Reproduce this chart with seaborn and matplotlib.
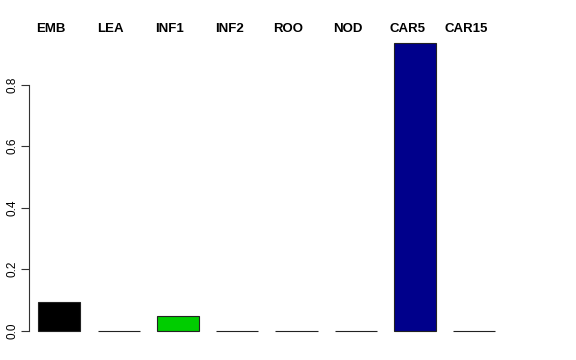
import matplotlib
matplotlib.use("Agg")
import matplotlib.pyplot as plt
import matplotlib.transforms as mtransforms
import seaborn as sns
import pandas as pd

categories = ["EMB", "LEA", "INF1", "INF2", "ROO", "NOD", "CAR5", "CAR15"]
values = [0.092, 0.0, 0.049, 0.0, 0.0, 0.0, 0.937, 0.0]
bar_colors = ["#000000", "#FF0000", "#00CD00", "#0000FF", "#00FFFF", "#FF00FF", "#00008B", "#BEBEBE"]
y_ticks = [0.0, 0.2, 0.4, 0.6, 0.8]

df = pd.DataFrame({"tissue": categories, "value": values})

sns.set_style("white")
plt.rcParams["font.family"] = ["Liberation Sans", "DejaVu Sans"]
plt.rcParams["text.color"] = "black"
plt.rcParams["ytick.color"] = "black"

fig = plt.figure(figsize=(5.76, 3.6), dpi=100)
ax = fig.add_axes([29 / 576, 17.8 / 360, (504.7 - 29) / 576, (342.2 - 30.9) / 360])

sns.barplot(data=df, x="tissue", y="value", hue="tissue", palette=bar_colors,
            order=categories, hue_order=categories, width=0.71, dodge=False,
            saturation=1, edgecolor="#222222", linewidth=0.8, legend=False, ax=ax)

ax.set_xlim(-0.511, 7.511)
ax.set_ylim(-0.0375, 0.975)
ax.set_xlabel("")
ax.set_ylabel("")
ax.set_xticks([])
ax.set_yticks(y_ticks)
ax.set_yticklabels([f"{t:.1f}" for t in y_ticks], rotation=90, va="center", fontsize=8.5, color="black")
ax.tick_params(axis="y", length=5.5, width=0.8, color="#333333", pad=2, left=True)
for s in ["top", "right", "bottom"]:
    ax.spines[s].set_visible(False)
ax.spines["left"].set_bounds(0, 0.8)
ax.spines["left"].set_linewidth(0.8)
ax.spines["left"].set_color("#333333")

offset = mtransforms.ScaledTranslation(-8 / 100, 0, fig.dpi_scale_trans)
trans = mtransforms.blended_transform_factory(ax.transData, ax.transAxes) + offset
for i, lab in enumerate(categories):
    ax.text(i, 1.006, lab, transform=trans, ha="center", va="center",
            fontsize=9.5, fontweight="bold", color="black")

fig.savefig("out.png", dpi=100)
